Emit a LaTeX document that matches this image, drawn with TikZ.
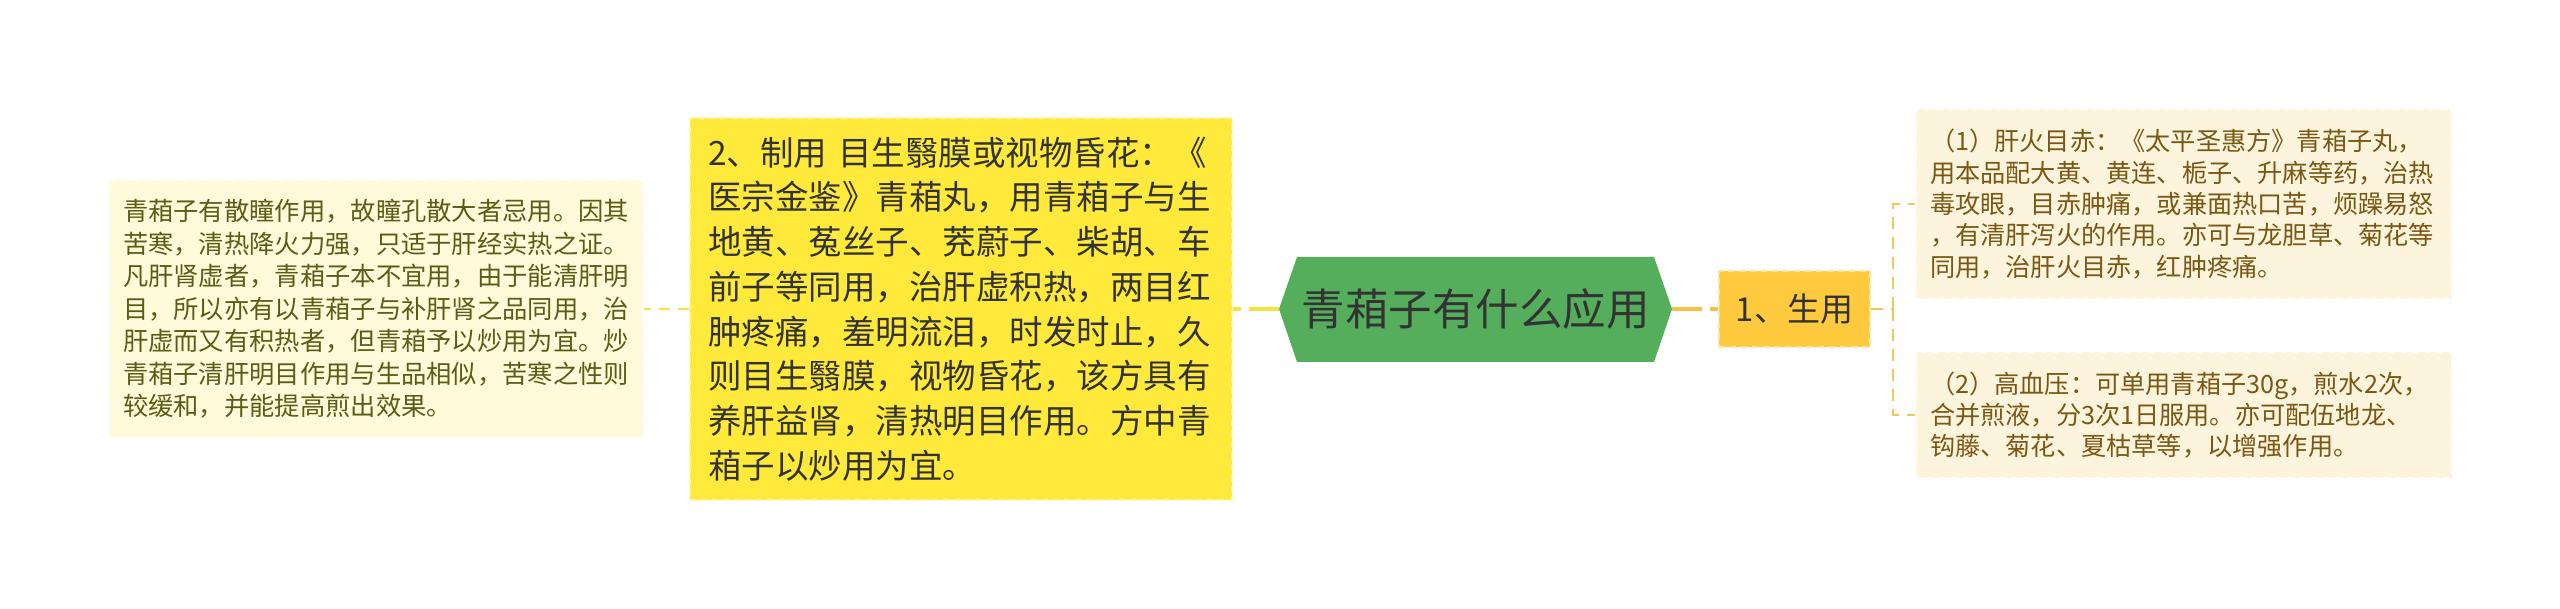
\documentclass[tikz,border=0pt]{standalone}
\usepackage{fontspec}
\newfontfamily\cjk{Noto Sans CJK SC}
\definecolor{leftfill}{HTML}{FEFADA}
\definecolor{lefttext}{HTML}{5E5B16}
\definecolor{rightfill}{HTML}{FDF4DD}
\definecolor{righttext}{HTML}{7A5712}
\definecolor{yel}{HTML}{FFEA3B}
\definecolor{amber}{HTML}{FFCA3E}
\definecolor{grn}{HTML}{54AE5C}
\definecolor{ink}{HTML}{333333}
\definecolor{lineY}{HTML}{F5E23F}
\definecolor{lineO}{HTML}{F4C247}
\definecolor{brkcol}{HTML}{F2C65A}
\begin{document}
\begin{tikzpicture}[x=1pt,y=-1pt,
  leafL/.style={fill=leftfill, draw=white, line width=1.2pt, dash pattern=on 5pt off 7pt,
    text=lefttext, align=left, text width=506pt, inner xsep=14pt, inner ysep=0pt,
    minimum width=534pt, font=\fontsize{25.3pt}{32.5pt}\selectfont\cjk},
  leafR/.style={fill=rightfill, draw=white, line width=1.2pt, dash pattern=on 5pt off 7pt,
    text=righttext, align=left, text width=508pt, inner xsep=14pt, inner ysep=0pt,
    minimum width=536pt, font=\fontsize{25.2pt}{31.3pt}\selectfont\cjk},
  midbox/.style={fill=yel, draw=yel!45!white, line width=1.5pt, dash pattern=on 6pt off 5pt,
    text=ink, align=left, text width=506pt, inner xsep=18pt, inner ysep=0pt,
    minimum width=542pt, font=\fontsize{33.5pt}{44.7pt}\selectfont\cjk},
  subbox/.style={fill=amber, draw=amber!50!white, line width=1.5pt, dash pattern=on 6pt off 5pt,
    text=ink, inner sep=0pt, minimum width=151pt, minimum height=76pt,
    font=\fontsize{33pt}{38pt}\selectfont\cjk},
  rootbox/.style={inner sep=0pt, minimum width=393pt, minimum height=105pt, text=ink,
    font=\fontsize{43.5pt}{50pt}\selectfont\cjk},
  connY/.style={draw=lineY, line width=4pt, dash pattern=on 30pt off 8pt},
  connO/.style={draw=lineO, line width=4pt, dash pattern=on 30pt off 8pt},
  connThin/.style={draw=lineY, line width=2.5pt, dash pattern=on 11pt off 8pt},
  brk/.style={draw=brkcol, line width=2.5pt, dash pattern=on 12pt off 8pt}
]
\useasboundingbox (0,0) rectangle (2560,609);
\fill[white] (0,0) rectangle (2560,609);

% root hexagon
\fill[grn] (1279,309) -- (1297,257) -- (1654,257) -- (1672,309) -- (1654,362) -- (1297,362) -- cycle;
\node[rootbox] (root) at (1475.5,309) {青葙子有什么应用};

% left branch
\node[midbox, minimum height=382pt] (yb) at (961,309) {2、制用 目生翳膜或视物昏花：《\\医宗金鉴》青葙丸，用青葙子与生\\地黄、菟丝子、茺蔚子、柴胡、车\\前子等同用，治肝虚积热，两目红\\肿疼痛，羞明流泪，时发时止，久\\则目生翳膜，视物昏花，该方具有\\养肝益肾，清热明目作用。方中青\\葙子以炒用为宜。};

\node[leafL, minimum height=258pt] (lb) at (376,309) {青葙子有散瞳作用，故瞳孔散大者忌用。因其\\苦寒，清热降火力强，只适于肝经实热之证。\\凡肝肾虚者，青葙子本不宜用，由于能清肝明\\目，所以亦有以青葙子与补肝肾之品同用，治\\肝虚而又有积热者，但青葙予以炒用为宜。炒\\青葙子清肝明目作用与生品相似，苦寒之性则\\较缓和，并能提高煎出效果。};

% right branch
\node[subbox] (sheng) at (1794.5,309) {1、生用};

\node[leafR, minimum height=190pt] (r1) at (2184,204) {（1）肝火目赤：《太平圣惠方》青葙子丸，\\用本品配大黄、黄连、栀子、升麻等药，治热\\毒攻眼，目赤肿痛，或兼面热口苦，烦躁易怒\\，有清肝泻火的作用。亦可与龙胆草、菊花等\\同用，治肝火目赤，红肿疼痛。};

\node[leafR, minimum height=126pt] (r2) at (2184,415) {（2）高血压：可单用青葙子30g，煎水2次，\\合并煎液，分3次1日服用。亦可配伍地龙、\\钩藤、菊花、夏枯草等，以增强作用。};

% connectors
\draw[connThin] (yb.west) -- (lb.east);
\draw[connY] (root.west) -- (yb.east);
\draw[connO] (root.east) -- (sheng.west);
\coordinate (j) at (1893,309);
\draw[brk] (sheng.east) -- (j);
\draw[brk] (j) |- (r1.west);
\draw[brk] (j) |- (r2.west);
\end{tikzpicture}
\end{document}
